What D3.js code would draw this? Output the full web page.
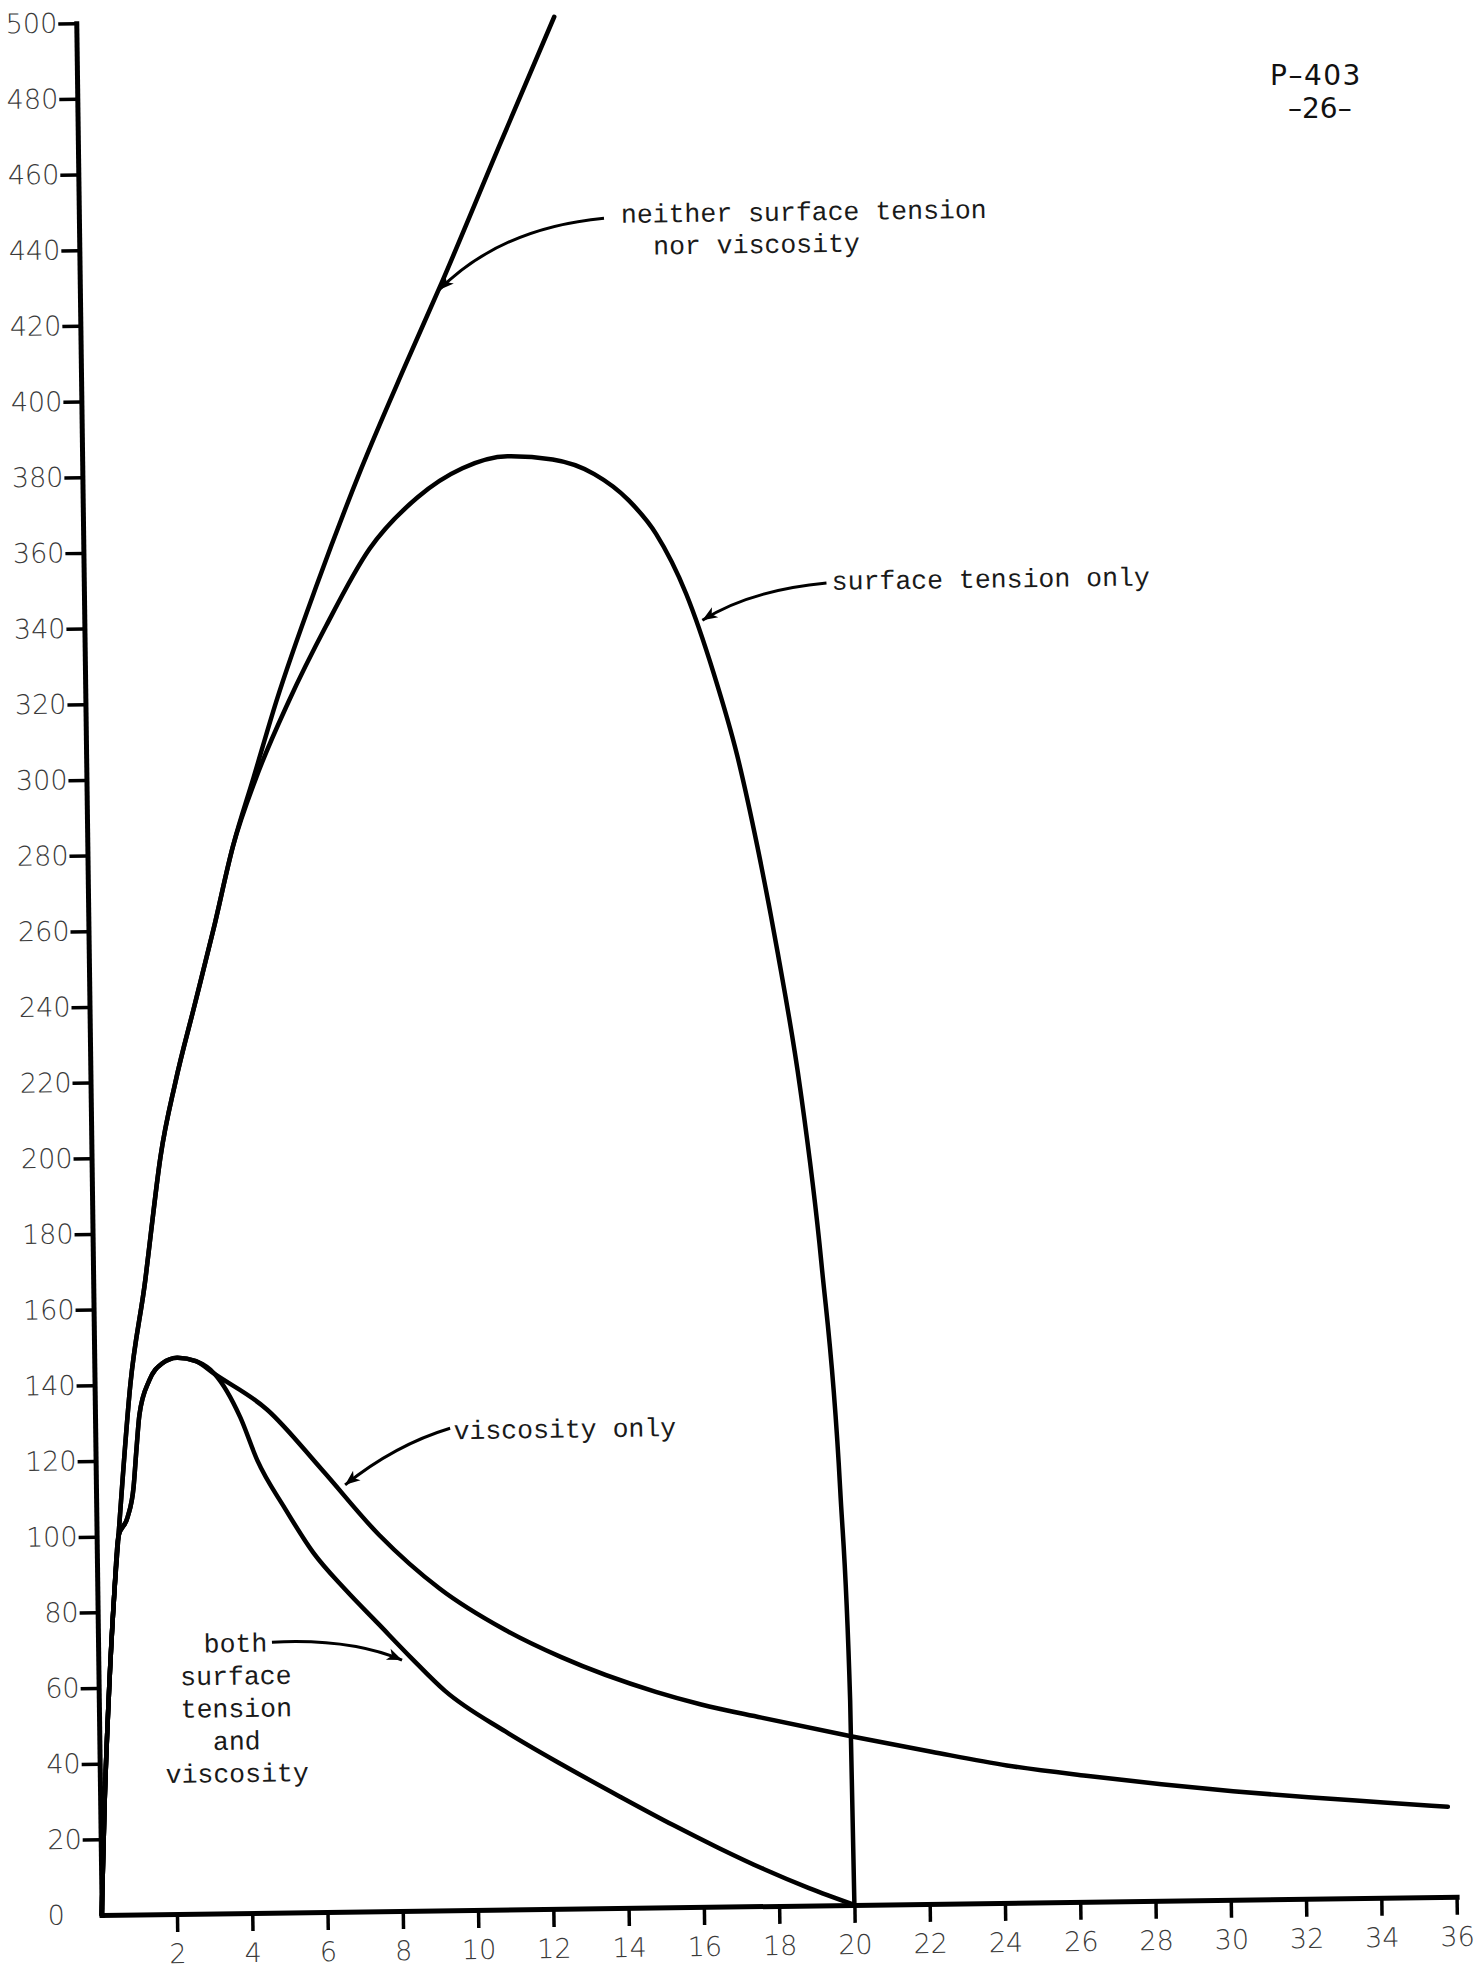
<!DOCTYPE html>
<meta charset="utf-8">
<script src="https://d3js.org/d3.v7.min.js"></script>
<style>
  body { margin: 0; background: #fff; }
</style>
<div id="chart"></div>
<script>

// curves, [x, y] in chart units
var neither = [[0,0],[0.12,30],[0.28,60],[0.45,85],[0.58,100],[0.95,140],[1.39,168],[1.55,180],[1.83,200],
  [2.26,220],[2.79,240],[3.32,260],[3.87,282],[4.44,300],[5.07,320],[6.2,351],[7.4,381],[8.6,408],
  [9.61,430],[11.19,466],[12.7,500]];

var surfaceOnly = [[0,0],[0.12,30],[0.28,60],[0.45,85],[0.58,100],[0.95,140],[1.39,168],[1.55,180],[1.83,200],
  [2.26,220],[2.79,240],[3.32,260],[3.87,282],[4.51,300],[5.4,320],[6.43,340],[7.6,360],[8.9,373.5],
  [10.1,381],[11.3,384],[12.5,383],[13.6,379],[14.5,372],[15.22,363],[16.0,347],[16.7,326],[17.3,304],
  [17.8,280],[18.3,252],[18.85,216],[19.35,170],[19.77,110],[19.96,54],[20,0]];

var viscosityOnly = [[0,0],[0.12,30],[0.28,60],[0.45,85],[0.58,100],[0.83,105],[1.0,113],[1.09,123],[1.18,132],
  [1.45,141],[1.8,145.5],[2.2,147],[2.7,146],[3.2,142.5],[4.57,133],[6.0,117],[7.5,99.5],[9.1,85],
  [10.8,74],[12.3,66.5],[14.8,57],[16,53.5],[17.6,49.8],[20,44.5],[22.1,40.2],[24.1,36.3],[26.2,33.3],
  [28.2,30.8],[30.1,28.7],[32.1,26.8],[34.1,25.2],[35.8,23.8]];

var bothEffects = [[0,0],[0.12,30],[0.28,60],[0.45,85],[0.58,100],[0.83,105],[1.0,113],[1.09,123],[1.18,132],
  [1.45,141],[1.8,145.5],[2.2,147],[2.7,146],[3.2,142.5],[3.86,131],[4.3,119.5],[5.0,107],[5.75,95],
  [6.6,85],[7.45,76],[8.3,67],[9.2,58],[10.8,47],[12.3,38],[13.8,29.5],[15.2,21.8],[16.4,15.6],
  [17.6,9.8],[18.8,4.6],[20,0]];

var xTicks = d3.range(2, 37, 2);
var yTicks = d3.range(0, 501, 20);

// labels with their arrows (chart units)
var notes = [
  {lines: ["neither surface tension", "  nor viscosity"], at: [14.4, 445.3], from: [13.95, 446.6], via: [11.2, 444.4], tip: [9.54, 428.2]},
  {lines: ["surface tension only"], at: [19.87, 347.6], from: [19.73, 349.4], via: [17.71, 347.8], tip: [16.42, 340]},
  {lines: ["viscosity only"], at: [9.52, 124.5], from: [9.43, 127.4], via: [7.96, 123.2], tip: [6.62, 112.8]},
  {lines: ["both", "surface", "tension", "and", "viscosity"], at: [3.65, 69], center: true, from: [4.62, 71.5], via: [6.7, 72.3], tip: [8.07, 66.3]}
];

var W = 1483, H = 1969;

var svg = d3.select("#chart")
    .append("svg")
    .attr("width", W)
    .attr("height", H);

svg.append("rect").attr("width", W).attr("height", H).attr("fill", "#fff");

// the sheet was scanned a little crooked
var g = svg.append("g")
    .attr("transform", "translate(101.7,1915) rotate(-0.77)");

var x = d3.scaleLinear().domain([0, 36]).range([0, 1355]);
var y = d3.scaleLinear().domain([0, 500]).range([0, -1892]);

var tickFont = "'DejaVu Sans', sans-serif";

// X axis
var gx = g.append("g")
    .call(d3.axisBottom(x).tickValues(xTicks).tickSize(18).tickPadding(12).tickSizeOuter(0));
gx.select(".domain").attr("stroke", "#000").attr("stroke-width", 5).attr("stroke-linecap", "square");
gx.selectAll(".tick line").attr("stroke", "#000").attr("stroke-width", 3.5);
gx.selectAll(".tick text")
    .attr("fill", "#3a3a3a")
    .style("font-family", tickFont)
    .style("font-weight", 200)
    .style("font-size", "27px");

// Y axis
var gy = g.append("g")
    .call(d3.axisLeft(y).tickValues(yTicks).tickSize(18).tickPadding(1).tickSizeOuter(0));
gy.select(".domain").attr("stroke", "#000").attr("stroke-width", 5).attr("stroke-linecap", "square");
gy.selectAll(".tick line").attr("stroke", "#000").attr("stroke-width", 3.5);
gy.selectAll(".tick text")
    .attr("fill", "#3a3a3a")
    .style("font-family", tickFont)
    .style("font-weight", 200)
    .style("font-size", "27px");
gy.selectAll(".tick").filter(function(d) { return d === 0; })
    .call(function(t) {
      t.select("line").remove();
      t.select("text").attr("x", -37);
    });

// curves
var line = d3.line()
    .x(function(d) { return x(d[0]); })
    .y(function(d) { return y(d[1]); })
    .curve(d3.curveMonotoneX);

[neither, surfaceOnly, viscosityOnly, bothEffects].forEach(function(s) {
  g.append("path")
      .datum(s)
      .attr("d", line)
      .attr("fill", "none")
      .attr("stroke", "#000")
      .attr("stroke-width", 4.5)
      .attr("stroke-linejoin", "round")
      .attr("stroke-linecap", "round");
});

// arrowhead
svg.append("defs").append("marker")
    .attr("id", "head")
    .attr("markerUnits", "userSpaceOnUse")
    .attr("viewBox", "-16 -7 18 14")
    .attr("markerWidth", 18)
    .attr("markerHeight", 14)
    .attr("refX", 0)
    .attr("refY", 0)
    .attr("orient", "auto")
    .append("path")
    .attr("d", "M0,0 L-15,-6 L-11,0 L-15,6 Z")
    .attr("fill", "#000");

notes.forEach(function(n) {
  var p0 = [x(n.from[0]), y(n.from[1])],
      p1 = [x(n.via[0]), y(n.via[1])],
      p2 = [x(n.tip[0]), y(n.tip[1])];
  g.append("path")
      .attr("d", "M" + p0 + "Q" + p1 + " " + p2)
      .attr("fill", "none")
      .attr("stroke", "#000")
      .attr("stroke-width", 3)
      .attr("marker-end", "url(#head)");

  var t = g.append("text")
      .attr("x", x(n.at[0]))
      .attr("y", y(n.at[1]))
      .attr("text-anchor", n.center ? "middle" : "start")
      .style("font-family", "'Liberation Mono', 'Courier New', monospace")
      .style("font-size", "26.5px")
      .style("white-space", "pre")
      .attr("fill", "#1a1a1a");
  n.lines.forEach(function(l, i) {
    t.append("tspan")
        .attr("x", x(n.at[0]))
        .attr("dy", i === 0 ? 0 : (n.center ? 32.5 : 32))
        .text(l);
  });
});

// page marks, top right
svg.append("text")
    .attr("x", 1270)
    .attr("y", 85)
    .style("font-family", "'DejaVu Sans', sans-serif")
    .style("font-size", "28px")
    .style("letter-spacing", "1.5px")
    .attr("fill", "#111")
    .text("P–403");
svg.append("text")
    .attr("x", 1288)
    .attr("y", 118)
    .style("font-family", "'DejaVu Sans', sans-serif")
    .style("font-size", "28px")
    .attr("fill", "#111")
    .text("–26–");

</script>
